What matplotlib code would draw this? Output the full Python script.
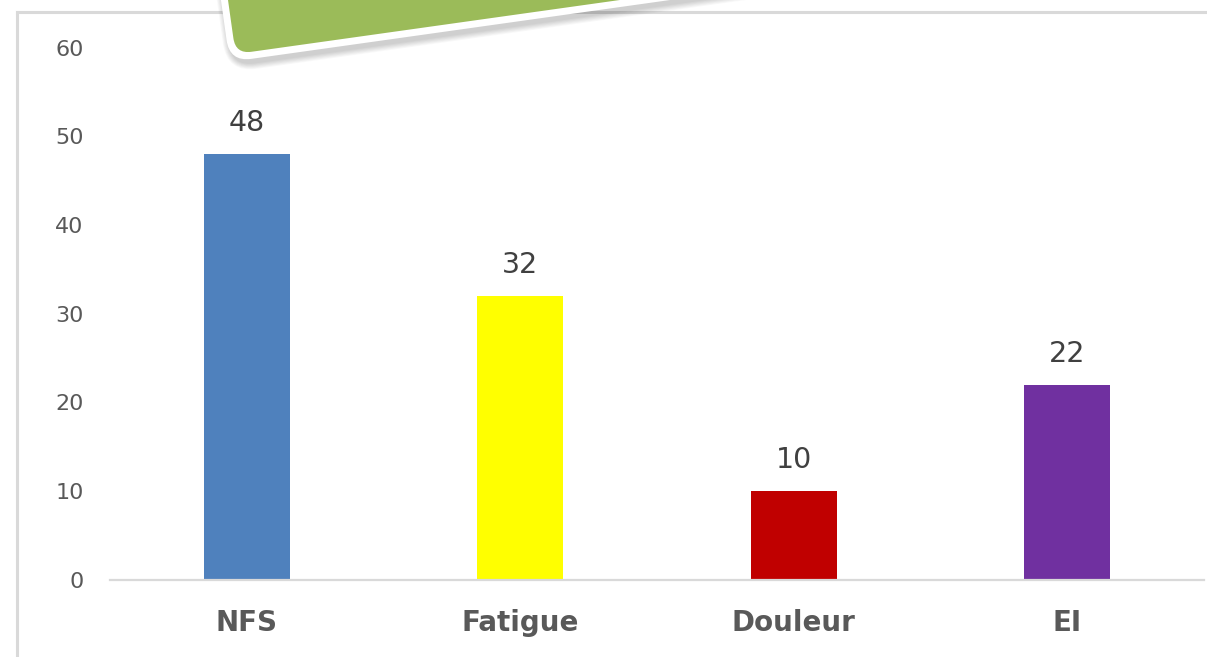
import matplotlib
matplotlib.use("Agg")
import matplotlib.pyplot as plt
from matplotlib.patches import FancyBboxPatch
from matplotlib.lines import Line2D
from matplotlib.transforms import Affine2D

categories = ["NFS", "Fatigue", "Douleur", "EI"]
values = [48, 32, 10, 22]
bar_colors = ["#4F81BD", "#FFFF00", "#C00000", "#7030A0"]
yticks = [0, 10, 20, 30, 40, 50, 60]

W, H = 1207, 657
plt.rcParams['font.family'] = ['DejaVu Sans']
fig = plt.figure(figsize=(W / 100, H / 100), dpi=100)
fig.patch.set_facecolor("white")

ax = fig.add_axes([110 / W, (H - 580) / H, (1204 - 110) / W, (580 - 47.5) / H])
x = list(range(len(categories)))
ax.bar(x, values, width=0.315, color=bar_colors, zorder=2)
ax.set_xlim(-0.5, 3.5)
ax.set_ylim(0, 60)
ax.set_yticks(yticks)
ax.set_xticks(x)
ax.set_xticklabels(categories, fontsize=20, fontweight="bold", color="#595959")
for s in ["top", "right", "left"]:
    ax.spines[s].set_visible(False)
ax.spines["bottom"].set_color("#D9D9D9")
ax.spines["bottom"].set_linewidth(1.6)
ax.tick_params(axis="x", length=0, pad=21)
ax.tick_params(axis="y", length=0, pad=19, labelsize=16, labelcolor="#595959")

for xi, v in zip(x, values):
    ax.annotate(str(v), xy=(xi, v), xytext=(0, 16.5), textcoords="offset points",
                ha="center", va="baseline", fontsize=20.5, color="#404040")

# outer frame
fig.add_artist(Line2D([17 / W, 17 / W], [0, (H - 12) / H], color="#D9D9D9", lw=2.2, zorder=1))
fig.add_artist(Line2D([17 / W, 1], [(H - 12) / H, (H - 12) / H], color="#D9D9D9", lw=2.2, zorder=1))

# green rotated banner (partially off-canvas)
def banner_tr(dx=0, dy=0):
    return Affine2D().rotate_deg(8).translate(235.6 + dx, H - 54 + dy)

for k in range(8, 0, -1):
    sh = FancyBboxPatch((0, 0), 700, 300, boxstyle=f"round,pad={6 + k * 0.8},rounding_size={22 + k}",
                        transform=banner_tr(2, -5), facecolor="#000000", edgecolor="none",
                        alpha=0.022, zorder=4)
    fig.add_artist(sh)
white = FancyBboxPatch((0, 0), 700, 300, boxstyle="round,pad=7,rounding_size=22",
                       transform=banner_tr(), facecolor="white", edgecolor="none", zorder=5)
fig.add_artist(white)
green = FancyBboxPatch((0, 0), 700, 300, boxstyle="round,pad=0,rounding_size=16",
                       transform=banner_tr(), facecolor="#9BBB59", edgecolor="none", zorder=6)
fig.add_artist(green)

fig.savefig("out.png", dpi=100, facecolor="white")
